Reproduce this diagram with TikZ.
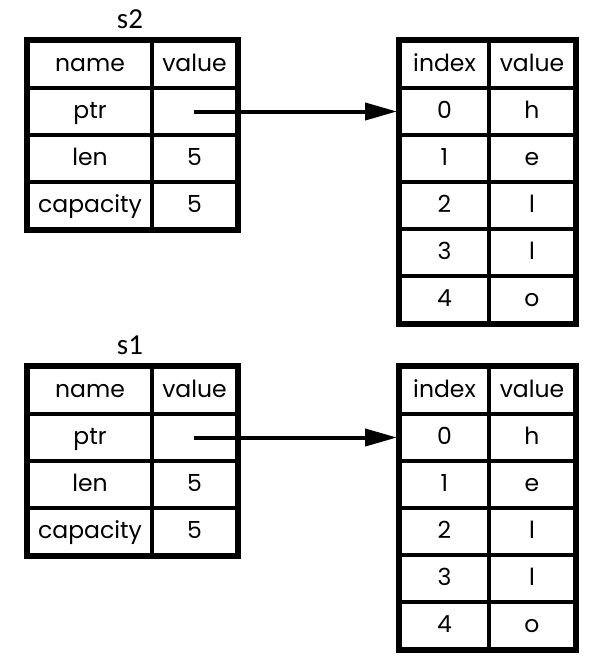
\documentclass[tikz,border=0pt]{standalone}
\usepackage{fontspec}
\setmainfont{Poppins}
\newfontfamily\labelfont{Carlito}
\usetikzlibrary{arrows.meta}
\begin{document}
\begin{tikzpicture}[x=1pt,y=-1pt,
  cell/.style={draw=black, line width=4pt, minimum height=47pt, inner sep=0pt, anchor=north west,
    text height=18.5pt, text depth=5.5pt, font=\fontsize{23.5}{26}\selectfont},
  namecol/.style={cell, minimum width=124pt},
  valcol/.style={cell, minimum width=85pt},
  idxcol/.style={cell, minimum width=89pt},
  chrcol/.style={cell, minimum width=86pt},
  frame/.style={draw=black, line width=4.5pt},
  title/.style={font=\labelfont\fontsize{29}{32}\selectfont},
  ptrarrow/.style={line width=4pt, -{Triangle[length=32pt,width=17pt]}, shorten >=1pt}
]
\useasboundingbox (0,0) rectangle (589,659);
\foreach \tb/\top/\lab in {a/39/s2, b/365/s1} {
  \node[title] (\tb title) at (130,\top-20) {\lab};
  % left table
  \node[namecol] (\tb n0) at (26,\top) {name};
  \node[valcol]  (\tb v0) at (150,\top) {value};
  \node[namecol] (\tb n1) at (26,\top+47) {ptr};
  \node[valcol]  (\tb v1) at (150,\top+47) {};
  \node[namecol] (\tb n2) at (26,\top+94) {len};
  \node[valcol]  (\tb v2) at (150,\top+94) {5};
  \node[namecol] (\tb n3) at (26,\top+141) {capacity};
  \node[valcol]  (\tb v3) at (150,\top+141) {5};
  \draw[frame] (\tb n0.north west) rectangle (\tb v3.south east);
  % right table
  \node[idxcol] (\tb i0) at (398,\top) {index};
  \node[chrcol] (\tb c0) at (487,\top) {value};
  \node[idxcol] (\tb i1) at (398,\top+47) {0};
  \node[chrcol] (\tb c1) at (487,\top+47) {h};
  \node[idxcol] (\tb i2) at (398,\top+94) {1};
  \node[chrcol] (\tb c2) at (487,\top+94) {e};
  \node[idxcol] (\tb i3) at (398,\top+141) {2};
  \node[chrcol] (\tb c3) at (487,\top+141) {l};
  \node[idxcol] (\tb i4) at (398,\top+188) {3};
  \node[chrcol] (\tb c4) at (487,\top+188) {l};
  \node[idxcol] (\tb i5) at (398,\top+235) {4};
  \node[chrcol] (\tb c5) at (487,\top+235) {o};
  \draw[frame] (\tb i0.north west) rectangle (\tb c5.south east);
  \coordinate (\tb start) at ([xshift=-1pt]\tb v1.center);
  \draw[ptrarrow] (\tb start) -- (\tb i1.west);
}
\end{tikzpicture}
\end{document}
